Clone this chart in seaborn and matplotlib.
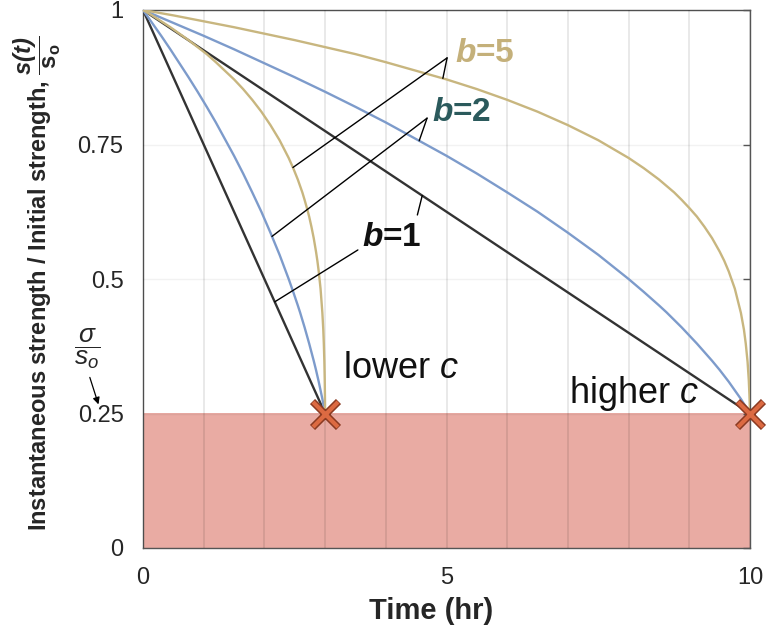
import numpy as np
import pandas as pd
import matplotlib
matplotlib.use("Agg")
import matplotlib.pyplot as plt
import seaborn as sns

# ---- data -------------------------------------------------------------
# fraction of the time to failure at which strength is sampled
frac_life = [0.0, 0.05, 0.1, 0.15, 0.2, 0.25, 0.3, 0.35, 0.4, 0.45, 0.5,
             0.55, 0.6, 0.65, 0.7, 0.75, 0.8, 0.825, 0.85, 0.8625, 0.875,
             0.8875, 0.9, 0.9125, 0.925, 0.9375, 0.95, 0.9575, 0.965, 0.975,
             0.985, 0.99, 0.993, 0.996, 0.998, 0.999, 0.9997, 1.0]

# normalised strength s(t)/s_o for each damage exponent b
frac_life_b1 = [0.0, 1.0]
strength_b1 = [1.0, 0.25]
strength_b2 = [1.0, 0.976, 0.952, 0.927, 0.901, 0.875, 0.848, 0.820, 0.791,
               0.760, 0.729, 0.696, 0.661, 0.625, 0.586, 0.545, 0.500, 0.476,
               0.451, 0.438, 0.424, 0.410, 0.395, 0.380, 0.364, 0.348, 0.331,
               0.320, 0.309, 0.293, 0.277, 0.268, 0.263, 0.257, 0.254, 0.252,
               0.251, 0.25]
strength_b5 = [1.0, 0.990, 0.979, 0.968, 0.956, 0.944, 0.931, 0.918, 0.903,
               0.887, 0.871, 0.853, 0.833, 0.811, 0.786, 0.758, 0.725, 0.706,
               0.685, 0.673, 0.661, 0.647, 0.632, 0.616, 0.597, 0.576, 0.551,
               0.534, 0.514, 0.482, 0.437, 0.406, 0.380, 0.346, 0.312, 0.286,
               0.264, 0.25]

# times to failure (hr) for the two load cases
failure_time_lower = 3.0
failure_time_higher = 10.0
failure_level = 0.25          # sigma / s_o

b_values = [1, 2, 5]
profiles = {1: (frac_life_b1, strength_b1),
            2: (frac_life, strength_b2),
            5: (frac_life, strength_b5)}
b_colors = {1: "#333333", 2: "#7d9bcb", 5: "#c8b67f"}
label_colors = {1: "#111111", 2: "#2b5a5c", 5: "#c4b07a"}

# ---- long-form table ---------------------------------------------------
rows = []
for b in b_values:
    fr, prof = profiles[b]
    for case, tf in [("lower", failure_time_lower), ("higher", failure_time_higher)]:
        for f, s in zip(fr, prof):
            rows.append({"time": f * tf, "strength": s, "b": b, "case": f"{case}-{b}"})
df = pd.DataFrame(rows)

# ---- style -------------------------------------------------------------
sns.set_style("white")
plt.rcParams["font.family"] = ["Liberation Sans", "DejaVu Sans"]
plt.rcParams["mathtext.fontset"] = "custom"
plt.rcParams["mathtext.rm"] = "Liberation Sans"
plt.rcParams["mathtext.it"] = "Liberation Sans:italic"
plt.rcParams["mathtext.bf"] = "Liberation Sans:bold"
plt.rcParams["mathtext.bfit"] = "Liberation Sans:italic:bold"

fig = plt.figure(figsize=(7.75, 6.29), dpi=100)
ax = fig.add_axes([143 / 775, 1 - 548 / 629, 607 / 775, 538 / 629])

# failure region below the applied stress level
ax.fill_between([0, failure_time_higher], 0, failure_level,
                color="#e9aba3", lw=0, zorder=0)

# grid
ax.set_xticks(range(0, 11))
ax.set_yticks([0, 0.25, 0.5, 0.75, 1])
ax.grid(axis="x", color="black", alpha=0.10, lw=1.2, zorder=1)
ax.grid(axis="y", color="black", alpha=0.05, lw=1.0, zorder=1)
ax.set_axisbelow(False)

sns.lineplot(data=df, x="time", y="strength", hue="b", units="case",
             estimator=None, sort=False, palette=b_colors, lw=1.7,
             legend=False, ax=ax, zorder=3)

# failure points
fail_t = [failure_time_lower, failure_time_higher]
fail_s = [failure_level, failure_level]
ax.plot(fail_t, fail_s, ls="none", marker="x", ms=19, mew=5.2,
        color="#8a3a22", clip_on=False, zorder=5)
ax.plot(fail_t, fail_s, ls="none", marker="x", ms=18, mew=3.0,
        color="#dc6a42", clip_on=False, zorder=6)

ax.set_xlim(0, 10)
ax.set_ylim(0, 1)

# ticks
xlabels = ["0", "", "", "", "", "5", "", "", "", "", "10"]
ax.set_xticklabels(xlabels)
ax.set_yticklabels(["0", "0.25", "0.5", "0.75", "1"])
ax.tick_params(axis="x", direction="in", length=5, width=1, color="#555555",
               labelsize=17, pad=14, top=False)
ax.tick_params(axis="y", direction="in", length=5, width=1, color="#555555",
               labelsize=17, pad=14, right=True)
for sp in ax.spines.values():
    sp.set_color("#555555")
    sp.set_linewidth(1.0)

ax.set_xlabel("Time (hr)", fontsize=21, fontweight="bold")
ax.xaxis.set_label_coords(0.475, -0.092)
ax.set_ylabel(r"Instantaneous strength / Initial strength, "
              r"$\dfrac{\mathbfit{s(t)}}{\mathbf{s_o}}$",
              fontsize=17, fontweight="bold")
ax.yaxis.label.set_va("baseline")
ax.yaxis.set_label_coords(-0.157, 0.492)


# ---- b labels with leader lines ----------------------------------------
def curve(b, case):
    sub = df[df["case"] == f"{case}-{b}"]
    return sub["time"].to_numpy(), sub["strength"].to_numpy()


def leader(p0, b, case, t_on):
    t, s = curve(b, case)
    ax.plot([p0[0], t_on], [p0[1], np.interp(t_on, t, s)],
            color="black", lw=1.0, zorder=4)


# b = 5
leader((5.01, 0.911), 5, "lower", 2.47)
leader((5.01, 0.911), 5, "higher", 4.94)
# b = 2
leader((4.68, 0.799), 2, "lower", 2.125)
leader((4.68, 0.799), 2, "higher", 4.55)
# b = 1
leader((3.54, 0.554), 1, "lower", 2.17)
leader((4.52, 0.619), 1, "higher", 4.60)

for b, (x, y) in zip(b_values, [(3.60, 0.578), (4.76, 0.810), (5.14, 0.920)]):
    ax.text(x, y, r"$\mathbfit{b}$=%d" % b, fontsize=24, fontweight="bold",
            color=label_colors[b], ha="left", va="center", zorder=7)

ax.text(3.29, 0.316, r"lower $\mathit{c}$", fontsize=26, ha="left",
        va="baseline", color="#111111")
ax.text(7.02, 0.270, r"higher $\mathit{c}$", fontsize=26, ha="left",
        va="baseline", color="#111111")

# sigma / s_o marker next to the y axis
ax.text(-0.92, 0.370, r"$\dfrac{\sigma}{s_o}$", fontsize=19, ha="center",
        va="center", clip_on=False)
ax.annotate("", xy=(-0.72, 0.262), xytext=(-0.89, 0.322),
            arrowprops=dict(arrowstyle="-|>", color="black", lw=0.9,
                            mutation_scale=10),
            annotation_clip=False)

fig.savefig("out.png", dpi=100)
